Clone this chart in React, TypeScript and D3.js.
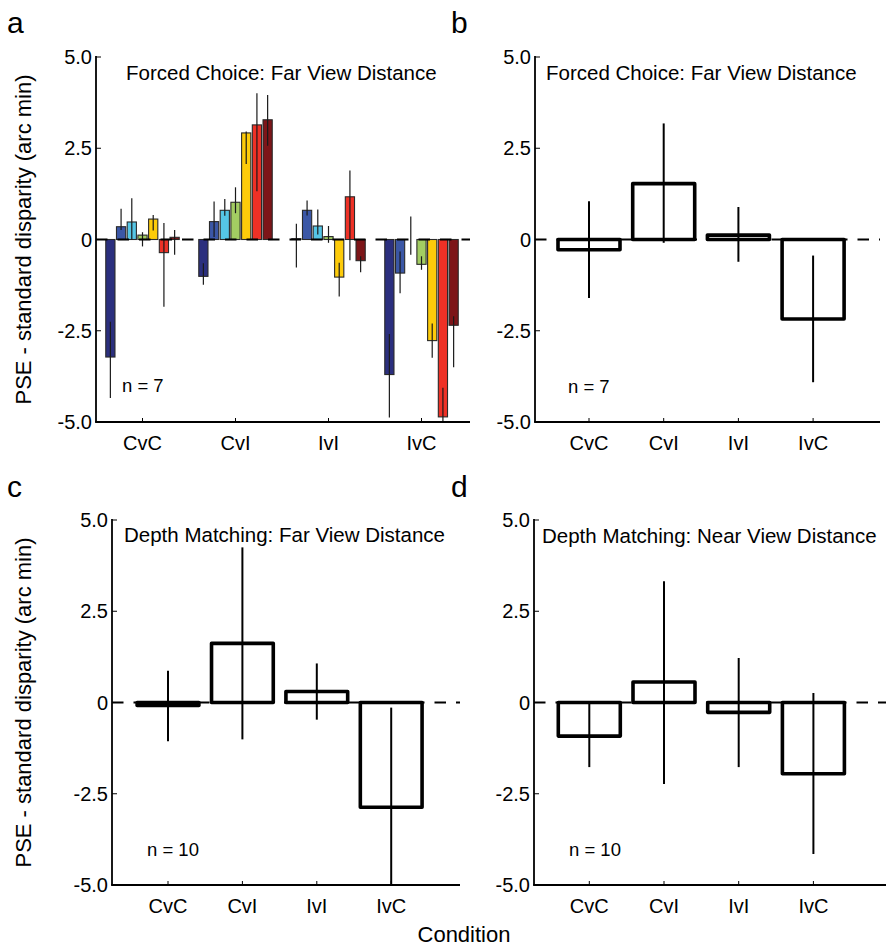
import React from "react";
import * as d3 from "d3";

// conditions and tick labels
const conditions = ["CvC", "CvI", "IvI", "IvC"];
const yTicks = [-5, -2.5, 0, 2.5, 5];
const yTickLabels = ["-5.0", "-2.5", "0", "2.5", "5.0"];

// panel a: 7 observers per condition
const observers = ["o1", "o2", "o3", "o4", "o5", "o6", "o7"];
const observerColors = ["#2b2f7e", "#3b57a6", "#55c6e6", "#a3cd62", "#fdcb0a", "#ee3126", "#7d1518"];
const fcFarMeans = [
    [-3.22, 0.35, 0.48, 0.12, 0.56, -0.36, 0.06],
    [-1.01, 0.49, 0.8, 1.02, 2.92, 3.14, 3.28],
    [0.02, 0.8, 0.37, 0.08, -1.03, 1.17, -0.58],
    [-3.7, -0.92, 0.0, -0.68, -2.77, -4.86, -2.35],
];
const fcFarHi = [
    [-2.25, 0.84, 1.13, 0.2, 0.67, 0.45, 0.26],
    [-0.65, 1.04, 1.11, 1.43, 2.96, 4.01, 3.96],
    [0.43, 1.07, 0.82, 0.37, -0.64, 1.89, -0.46],
    [-2.59, -0.33, 0.63, -0.46, -2.3, -4.06, -2.1],
];
const fcFarLo = [
    [-4.34, 0.26, 0.0, -0.19, 0.25, -1.84, -0.42],
    [-1.24, 0.07, 0.65, 0.72, 2.07, 1.32, 2.57],
    [-0.77, 0.66, 0.14, -0.09, -1.56, -0.57, -0.9],
    [-4.88, -1.47, -0.42, -0.83, -3.24, -5.0, -3.5],
];

// panel b: forced choice, far, group means
const fcMeanB = [-0.28, 1.53, 0.12, -2.18];
const fcHiB = [1.05, 3.18, 0.89, -0.44];
const fcLoB = [-1.6, -0.09, -0.61, -3.91];

// panel c: depth matching, far
const dmFarMean = [-0.08, 1.62, 0.3, -2.87];
const dmFarHi = [0.87, 4.25, 1.07, -0.14];
const dmFarLo = [-1.06, -1.01, -0.47, -5.0];

// panel d: depth matching, near
const dmNearMean = [-0.92, 0.56, -0.27, -1.95];
const dmNearHi = [-0.03, 3.32, 1.22, 0.26];
const dmNearLo = [-1.77, -2.23, -1.77, -4.15];

const font = "'Liberation Sans', Arial, Helvetica, sans-serif";
const clamp = (v: number) => Math.max(-5, Math.min(5, v));

interface Layout {
    axisX: number;
    axisEnd: number;
    yTop: number;
    yBottom: number;
    firstCenter: number;
    step: number;
    title: string;
    titleX: number;
    titleY: number;
    nText: string;
    nX: number;
    nY: number;
    letter: string;
    letterX: number;
    letterY: number;
    labelX?: number;
}

const Axes: React.FC<{ L: Layout; y: d3.ScaleLinear<number, number>; x: d3.ScaleBand<string> }> = ({ L, y, x }) => (
    <g fontFamily={font} fill="#000">
        <line x1={L.axisX} y1={L.yTop - 1} x2={L.axisX} y2={L.yBottom} stroke="#000" strokeWidth={1.8} />
        <line x1={L.axisX - 0.9} y1={L.yBottom} x2={L.axisEnd} y2={L.yBottom} stroke="#000" strokeWidth={1.8} />
        {yTicks.map((t, i) => (
            <g key={`yt-${i}`}>
                <line x1={L.axisX} x2={L.axisX + 5} y1={y(t)} y2={y(t)} stroke="#000" strokeWidth={1} />
                <text x={L.axisX - 4} y={y(t)} dy="0.36em" textAnchor="end" fontSize={20}>
                    {yTickLabels[i]}
                </text>
            </g>
        ))}
        {conditions.map(c => (
            <g key={`xt-${c}`}>
                <line x1={x(c)! + x.bandwidth() / 2} x2={x(c)! + x.bandwidth() / 2} y1={L.yBottom} y2={L.yBottom - 4} stroke="#000" strokeWidth={1} />
                <text x={x(c)! + x.bandwidth() / 2} y={L.yBottom + 28} textAnchor="middle" fontSize={20}>
                    {c}
                </text>
            </g>
        ))}
        <text x={L.titleX} y={L.titleY} fontSize={20.5}>{L.title}</text>
        <text x={L.nX} y={L.nY} fontSize={18.5}>{L.nText}</text>
        <text x={L.letterX} y={L.letterY} fontSize={30}>{L.letter}</text>
        {L.labelX !== undefined && (
            <text transform={`translate(${L.labelX},${y(0)}) rotate(-90)`} textAnchor="middle" fontSize={22}>
                PSE - standard disparity (arc min)
            </text>
        )}
    </g>
);

const makeScales = (L: Layout) => {
    const y = d3.scaleLinear().domain([-5, 5]).range([L.yBottom, L.yTop]);
    const x0 = L.firstCenter - L.step / 2;
    return { y, x0 };
};

const ZeroLine: React.FC<{ L: Layout; y: d3.ScaleLinear<number, number>; w?: number }> = ({ L, y, w = 1.8 }) => (
    <line x1={L.axisX} x2={L.axisEnd} y1={y(0)} y2={y(0)} stroke="#000" strokeWidth={w} strokeDasharray="11.5,10" />
);

const ColourPanel: React.FC<{ L: Layout }> = ({ L }) => {
    const { y, x0 } = makeScales(L);
    const x = d3.scaleBand<string>().domain(conditions).range([x0, x0 + 4 * L.step]).paddingInner(0.21).paddingOuter(0.105);
    const inner = d3.scaleBand<string>().domain(observers).range([0, x.bandwidth()]).paddingInner(0.14);
    return (
        <g>
            {conditions.map((c, ci) => (
                <g key={c} transform={`translate(${x(c)},0)`}>
                    {observers.map((o, oi) => {
                        const v = fcFarMeans[ci][oi];
                        return (
                            <rect
                                key={o}
                                x={inner(o)}
                                y={Math.min(y(v), y(0))}
                                width={inner.bandwidth()}
                                height={Math.abs(y(v) - y(0))}
                                fill={observerColors[oi]}
                                stroke="#2a2a2a"
                                strokeWidth={1.1}
                            />
                        );
                    })}
                    {observers.map((o, oi) => (
                        <line
                            key={`e-${o}`}
                            x1={inner(o)! + inner.bandwidth() / 2}
                            x2={inner(o)! + inner.bandwidth() / 2}
                            y1={y(clamp(fcFarHi[ci][oi]))}
                            y2={y(clamp(fcFarLo[ci][oi]))}
                            stroke="#1a1a1a"
                            strokeWidth={1.2}
                        />
                    ))}
                </g>
            ))}
            <ZeroLine L={L} y={y} w={2.2} />
            <Axes L={L} y={y} x={x} />
        </g>
    );
};

const OutlinePanel: React.FC<{ L: Layout; mean: number[]; hi: number[]; lo: number[] }> = ({ L, mean, hi, lo }) => {
    const { y, x0 } = makeScales(L);
    const x = d3.scaleBand<string>().domain(conditions).range([x0, x0 + 4 * L.step]).paddingInner(0.17).paddingOuter(0.085);
    return (
        <g>
            <ZeroLine L={L} y={y} />
            {conditions.map((c, i) => (
                <g key={c}>
                    <rect
                        x={x(c)}
                        y={Math.min(y(mean[i]), y(0))}
                        width={x.bandwidth()}
                        height={Math.abs(y(mean[i]) - y(0))}
                        fill="#fff"
                        stroke="#000"
                        strokeWidth={3.6}
                        strokeLinejoin="round"
                    />
                    <line
                        x1={x(c)! + x.bandwidth() / 2}
                        x2={x(c)! + x.bandwidth() / 2}
                        y1={y(clamp(hi[i]))}
                        y2={y(clamp(lo[i]))}
                        stroke="#000"
                        strokeWidth={2}
                    />
                </g>
            ))}
            <Axes L={L} y={y} x={x} />
        </g>
    );
};

const layoutA: Layout = {
    axisX: 96, axisEnd: 470, yTop: 57, yBottom: 422, firstCenter: 142.5, step: 93,
    title: "Forced Choice: Far View Distance", titleX: 126, titleY: 80,
    nText: "n = 7", nX: 122, nY: 392, letter: "a", letterX: 7, letterY: 33, labelX: 31,
};
const layoutB: Layout = {
    axisX: 535, axisEnd: 880, yTop: 57, yBottom: 422, firstCenter: 589, step: 74.7,
    title: "Forced Choice: Far View Distance", titleX: 546, titleY: 80,
    nText: "n = 7", nX: 568, nY: 393, letter: "b", letterX: 451, letterY: 33,
};
const layoutC: Layout = {
    axisX: 112, axisEnd: 460, yTop: 520, yBottom: 885, firstCenter: 168, step: 74.4,
    title: "Depth Matching: Far View Distance", titleX: 124, titleY: 542,
    nText: "n = 10", nX: 147, nY: 856, letter: "c", letterX: 7, letterY: 497, labelX: 31,
};
const layoutD: Layout = {
    axisX: 534, axisEnd: 886, yTop: 520, yBottom: 885, firstCenter: 589.3, step: 74.7,
    title: "Depth Matching: Near View Distance", titleX: 542, titleY: 543,
    nText: "n = 10", nX: 569, nY: 856, letter: "d", letterX: 451, letterY: 497,
};

const App: React.FC = () => (
    <svg width={892} height={949} style={{ position: "absolute", left: 0, top: 0, background: "#fff" }}>
        <rect width={892} height={949} fill="#fff" />
        <ColourPanel L={layoutA} />
        <OutlinePanel L={layoutB} mean={fcMeanB} hi={fcHiB} lo={fcLoB} />
        <OutlinePanel L={layoutC} mean={dmFarMean} hi={dmFarHi} lo={dmFarLo} />
        <OutlinePanel L={layoutD} mean={dmNearMean} hi={dmNearHi} lo={dmNearLo} />
        <text x={464} y={942} textAnchor="middle" fontFamily={font} fontSize={22}>Condition</text>
    </svg>
);

export default App;
